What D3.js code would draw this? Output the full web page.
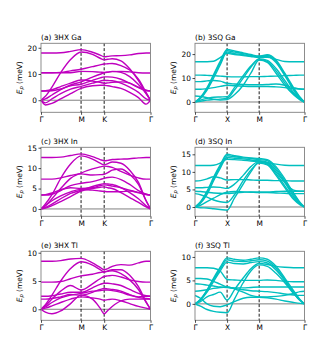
<!DOCTYPE html>
<html><head><meta charset="utf-8">
<script src="https://cdn.jsdelivr.net/npm/d3@7/dist/d3.min.js"></script>
<style>body{margin:0;background:#fff}svg text{font-family:"DejaVu Sans",sans-serif}</style>
</head><body><svg id="c" width="320" height="360"></svg>
<script>
// k-path node positions (fraction of path length)
const hexNodes = [0, .04, .1, .18, .27, .366, .47, .54, .577, .61, .65, .73, .81, .89, .96, 1];
const sqNodes  = [0, .05, .11, .17, .23, .293, .36, .44, .51, .586, .66, .74, .82, .9, .96, 1];
const hexTicks = [{f:0,l:"Γ"},{f:.366,l:"M"},{f:.577,l:"K"},{f:1,l:"Γ"}];
const sqTicks  = [{f:0,l:"Γ"},{f:.293,l:"X"},{f:.586,l:"M"},{f:1,l:"Γ"}];
const titles = ["(a) 3HX Ga","(b) 3SQ Ga","(c) 3HX In","(d) 3SQ In","(e) 3HX Tl","(f) 3SQ Tl"];
const yDomains = [[-4.6,21.7],[-4.3,24.5],[-1.8,15.1],[-2.65,17.0],[-1.95,10.25],[-3.5,11.2]];
const yTickVals = [[0,10,20],[0,10,20],[0,5,10,15],[0,5,10,15],[0,5,10],[0,5,10]];
const colors = ["#bf00bf","#00bfbf"];

// (a) 3HX Ga
const bandsA = [
 [18,18,18,18.1,18.6,19.3,18.3,17.2,16.6,16.7,16.9,17.0,17.3,17.8,18,18],
 [0,1.5,5,10.5,15.5,18.4,17.5,16,15.4,15.6,15.8,15,12,7.5,2.5,0],
 [10.5,10.5,10.5,10.6,11.2,11.8,12.8,13.5,13.8,13.9,14,13.2,11.5,8,3,0],
 [10.5,10.5,10.5,10.5,10.5,11,10.9,10.7,10.6,10.7,10.9,11,10.8,10.5,10.4,10.4],
 [0,0.5,2,4,5.8,7,8.8,9.9,10.4,10.7,11,10.6,9,6,2.5,0],
 [3.5,3.5,3.6,4.3,5.5,6.1,7.6,8.5,8.9,8.9,8.8,8,6.5,4.8,3.7,3.5],
 [3.5,3.6,4,5.2,6.5,7.7,7.3,6.8,6.5,6.6,6.8,7,6.5,5,3.8,3.5],
 [0,-1,0.5,2.5,4.2,5.3,6.5,7.3,7.6,7.5,7.4,6.5,5,3,0.5,0],
 [0,-1.8,-1.2,0.5,2.5,4.5,5.5,5.7,5.7,5.5,5.2,4.5,3,1,-1.5,0]
];
// (b) 3SQ Ga
const bandsB = [
 [0,2,6,11.5,17,21.9,21.3,20.5,19.8,19.2,19.7,17.5,12,6,2,0],
 [0,1.8,5.5,11,16.3,21.4,20.8,20.2,19.5,19,19.4,17,11.5,5.5,1.8,0],
 [0,1.5,5,10,15.5,20.8,20.2,19.7,19.2,18.8,19,16.5,11,5,1.5,0],
 [16.8,16.8,16.8,17,18.5,20.3,19.8,19.4,19,18.6,18.7,17.8,16.9,16.8,16.8,16.8],
 [11.2,11.2,11.1,11,10.8,10.6,10.5,10.5,10.6,10.6,10.7,10.8,11,11.1,11.2,11.2],
 [8.5,8.5,8.8,9,8.7,7.8,7.5,7.3,7.2,7.2,7.3,7.5,7,6,5.4,5.3],
 [5.3,5.3,5.6,6,6.5,7,6.8,6.6,6.5,6.5,6.5,6.3,6,5.6,5.4,5.3],
 [0,0.8,1.5,2,2.1,2.2,6,11,15,18,17.4,14,9,4,1.5,0],
 [0,0.3,0.8,1,1.2,1.5,5,10,14.5,17.8,17,13,8,3.5,1,0],
 [2.5,2.3,1.8,1.2,0.8,1,3,7,12,17.5,16.5,12,7,3,0.9,0]
];
// (c) 3HX In
const bandsC = [
 [12.6,12.6,12.6,12.7,13.1,13.5,12.8,12.1,11.8,11.9,12.1,12.2,12.3,12.5,12.6,12.6],
 [0,1.2,3.5,7.5,11,13,12.2,11.2,10.8,11.1,11.5,11.2,9.5,6.5,2,0],
 [7.3,7.3,7.3,7.6,8.2,8.6,8.3,8.4,8.5,8.9,9.5,9.8,8.5,6,2,0],
 [0,0.8,2.5,5,7.5,8.8,9.8,10.3,10.5,10.4,10.2,9.2,8.3,7.6,7.3,7.3],
 [3.4,3.4,3.6,4.5,5.7,6.3,6.7,7.2,7.5,7.7,7.8,7.2,6,4.5,3.6,3.4],
 [3.4,3.5,3.9,4.7,5.2,5,5.2,5.7,5.9,5.8,5.6,5.2,4.6,4,3.5,3.4],
 [0,0.8,2,3.2,4.2,4.8,4.6,4.4,4.3,4.2,4.2,4.2,4.4,4,3.6,3.4],
 [0,0.4,1.2,2.5,3.8,4.6,5.5,6,6.2,6.1,6,5.2,4,2.5,0.8,0],
 [0,0.2,0.8,1.8,3,4.4,5,5.3,5.4,5.2,5,4,2.8,1.6,0.5,0]
];
// (d) 3SQ In
const bandsD = [
 [0,1.5,4.5,8.5,12,15,14.6,14.2,14,13.8,13.5,11.5,8,4,1.3,0],
 [0,1.3,4,8,11.5,14.6,14.3,14,13.8,13.5,13.2,11,7.5,3.5,1.1,0],
 [0,1.1,3.6,7.5,11,14.1,13.9,13.7,13.4,13.2,12.8,10.5,7,3,0.9,0],
 [11.8,11.8,11.8,11.9,12.5,13.6,13.5,13.3,13.1,12.9,12.6,12.2,11.9,11.8,11.8,11.8],
 [7.4,7.5,8,8.6,8.3,7.7,7.8,7.8,7.7,7.6,7.6,7.5,7.5,7.4,7.4,7.4],
 [5.5,5.5,5.6,5.7,5.6,5.3,6.5,9,11.5,13,12.5,10,7,4.8,4.5,4.5],
 [4.5,4.4,4.2,4,3.9,3.8,4,4.2,4.3,4.3,4.3,4.4,4.5,4.5,4.5,4.5],
 [0,0.5,1.5,2.5,3.5,4.2,4.4,4.3,4.2,4.1,4.1,4,3.9,3.8,3.8,3.8],
 [0,-0.2,-0.3,-0.5,-0.7,-0.9,2.5,6.5,10,12.8,12.2,9.5,6,2.5,0.8,0],
 [3.8,3.5,2.8,2,1.5,1.3,3.5,7.5,10.5,12.5,12,9,5.5,2.2,0.6,0]
];
// (e) 3HX Tl
const bandsE = [
 [8.5,8.5,8.5,8.6,8.9,9.0,8.2,7.4,7.0,7.2,7.6,7.9,7.8,8.2,8.5,8.5],
 [0,0.8,2.5,5,7.2,8.4,7.8,7,6.6,6.8,7,7,6,4,1.3,0],
 [4.8,4.8,4.8,4.9,5.4,5.9,6.2,6.5,6.6,6.7,6.8,6.3,5.2,3.5,1.2,0],
 [0,0.6,1.8,3.2,4.2,3.4,4.5,5.4,5.8,5.9,6,5.7,5.2,4.9,4.8,4.8],
 [2.3,2.3,2.4,2.7,3,3.0,3.8,4.4,4.6,4.6,4.5,4.2,3.5,2.8,2.4,2.3],
 [1.8,1.8,1.9,2.2,2.6,2.5,3,3.5,3.7,3.6,3.5,3.2,2.6,2.1,1.9,1.8],
 [0,0.4,1.2,2,2.5,2.8,3.2,3.3,3.4,3.4,3.3,3,2.5,2.2,2.3,2.3],
 [0,-0.5,-0.8,-0.3,1,2.5,1.8,0.2,-0.8,-0.2,0.5,1.5,1.8,1.8,1.8,1.8],
 [0,0.2,0.6,1.2,1.8,2.2,2,1.8,1.6,1.7,1.8,1.5,1,0.5,0.2,0]
];
// (f) 3SQ Tl
const bandsF = [
 [0,1,3,5.5,7.8,9.8,9.5,9.3,9.5,9.8,9.5,8,5.5,2.8,0.9,0],
 [0,0.9,2.8,5.2,7.4,9.4,9.1,9.0,9.2,9.4,9.1,7.6,5.2,2.5,0.8,0],
 [0,0.8,2.5,4.8,7,8.9,8.6,8.5,8.8,9.0,8.7,7.2,4.9,2.3,0.7,0],
 [7.7,7.7,7.7,7.6,7,5.2,5.1,5,5,5,5.1,5,4.8,4.7,4.7,4.7],
 [0,0.5,1.5,2,2.5,0.8,3,5.5,7.5,8.6,8.4,8,7.8,7.7,7.7,7.7],
 [0,-0.5,-1.2,-1.6,-1.8,-1.9,1,4.5,7,8.3,8,6.5,4.5,2.2,0.7,0],
 [5.4,5.4,5.3,4.8,4.2,3.6,3.4,3.4,3.5,3.6,3.6,3.6,3.6,3.6,3.6,3.6],
 [4.3,4.2,4,3.8,3.6,3.5,3.3,3,2.8,2.7,2.6,2.4,2.1,1.9,1.8,1.8],
 [2.7,2.8,3.0,3.3,3.5,3.6,3.2,2.5,1.8,1.5,1.5,1.6,1.8,2.2,2.6,2.7],
 [1.8,1.2,0,-0.5,-0.6,-0.2,0.5,1.2,1.4,1.4,1.3,1,0.6,0.3,0.1,0]
];
const allBands = [bandsA,bandsB,bandsC,bandsD,bandsE,bandsF];

const svg = d3.select("#c");
const colX = [41, 195], rowY = [43.3, 147.3, 251.3], W = 109.5, H = 69;
const fs = 7.4;

allBands.forEach((bands, i) => {
  const col = i % 2, row = Math.floor(i / 2);
  const hex = col === 0;
  const nodes = hex ? hexNodes : sqNodes;
  const ticks = hex ? hexTicks : sqTicks;
  const x0 = colX[col], y0 = rowY[row];
  const g = svg.append("g").attr("transform", `translate(${x0},${y0})`);
  const x = d3.scaleLinear().domain([0,1]).range([0,W]);
  const y = d3.scaleLinear().domain(yDomains[i]).range([H,0]);
  const clipId = "clip" + i;
  g.append("clipPath").attr("id", clipId).append("rect").attr("width", W).attr("height", H);
  g.append("line").attr("x1",0).attr("x2",W).attr("y1",y(0)).attr("y2",y(0))
    .attr("stroke","#808080").attr("stroke-width",1);
  ticks.slice(1,3).forEach(t => {
    g.append("line").attr("x1",x(t.f)).attr("x2",x(t.f)).attr("y1",0).attr("y2",H)
      .attr("stroke","#000").attr("stroke-width",0.9).attr("stroke-dasharray","3,1.8");
  });
  const line = d3.line().x((d,j) => x(nodes[j])).y(d => y(d)).curve(d3.curveMonotoneX);
  g.append("g").attr("clip-path", `url(#${clipId})`).selectAll("path").data(bands).join("path")
    .attr("d", line).attr("fill","none").attr("stroke", colors[col]).attr("stroke-width",1.4);
  g.append("rect").attr("width",W).attr("height",H).attr("fill","none")
    .attr("stroke","#808080").attr("stroke-width",0.9);
  const ya = g.append("g").call(d3.axisLeft(y).tickValues(yTickVals[i]).tickSize(2.5).tickPadding(1.5));
  ya.select(".domain").remove();
  ya.selectAll("line").attr("stroke","#000").attr("stroke-width",0.7);
  ya.selectAll("text").attr("font-size",fs).attr("fill","#000").style("font-family","DejaVu Sans");
  const xa = g.append("g").attr("transform",`translate(0,${H})`)
    .call(d3.axisBottom(x).tickValues(ticks.map(t=>t.f)).tickFormat((d,j)=>ticks[j].l).tickSize(2.5).tickPadding(1.5));
  xa.select(".domain").remove();
  xa.selectAll("line").attr("stroke","#000").attr("stroke-width",0.7);
  xa.selectAll("text").attr("font-size",fs).attr("fill","#000").style("font-family","DejaVu Sans");
  g.append("text").attr("x",0).attr("y",-3.5).attr("font-size",fs).text(titles[i]);
  const yl = g.append("text").attr("transform",`translate(${-19.5},${H/2}) rotate(-90)`)
    .attr("text-anchor","middle").attr("font-size",fs);
  yl.append("tspan").attr("font-style","italic").text("E");
  yl.append("tspan").attr("font-style","italic").attr("font-size",fs*0.7).attr("dy",1.6).text("p");
  yl.append("tspan").attr("dy",-1.6).text(" (meV)");
});
</script></body></html>
